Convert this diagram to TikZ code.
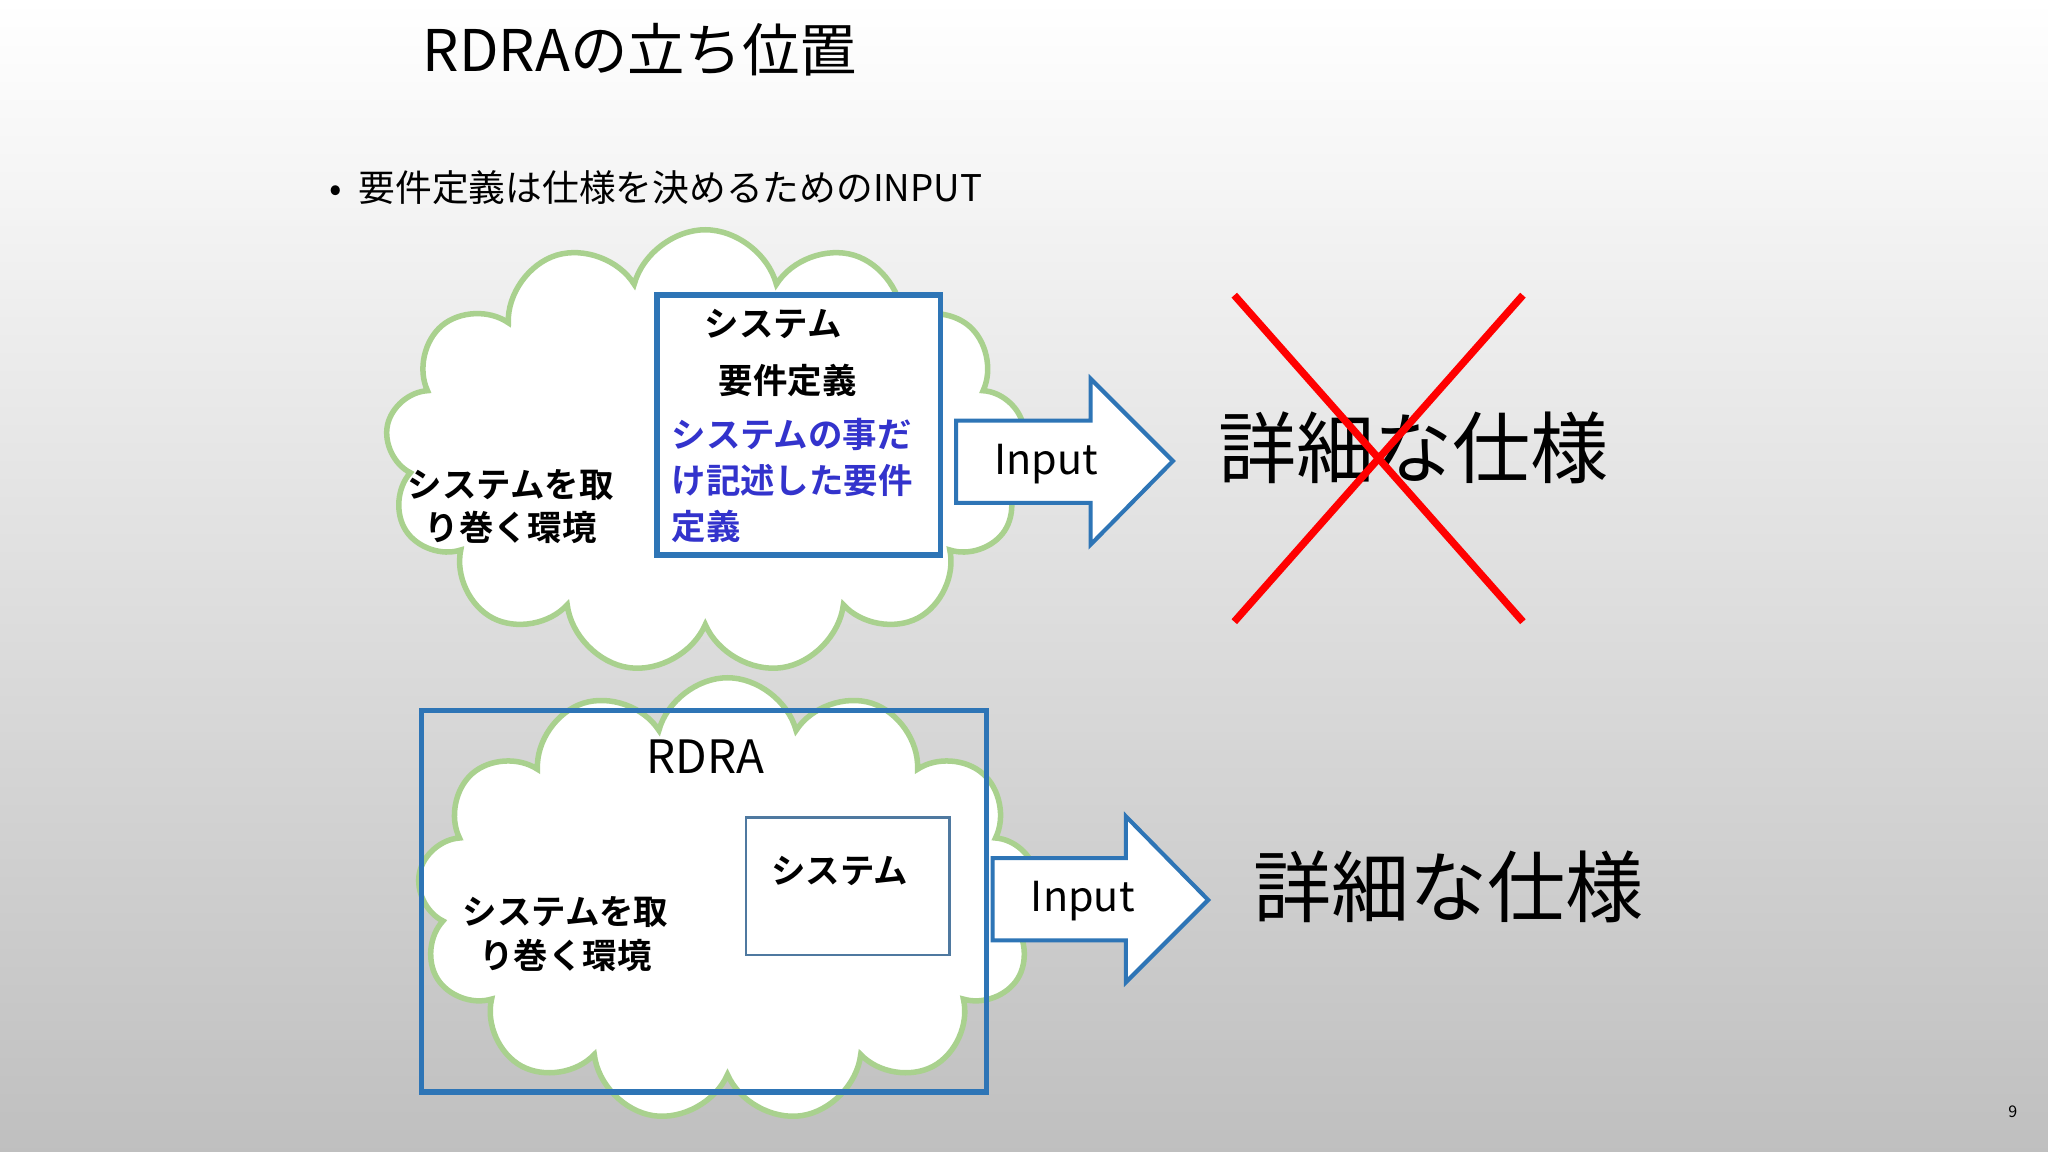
\documentclass[tikz,border=0pt]{standalone}
\usepackage{fontspec}
\setmainfont{Noto Sans CJK JP}
\newfontfamily\jpb{Noto Sans CJK JP Bold}
\usetikzlibrary{shapes.symbols}
\definecolor{bblue}{HTML}{2E75B6}
\definecolor{cgreen}{HTML}{A9D18E}
\definecolor{ptext}{HTML}{3333CC}
\tikzset{
 cloudy/.style={cloud,cloud puffs=13,cloud ignores aspect,draw=cgreen,line width=1.2pt,fill=white},
 bold/.style={font=\jpb\fontsize{7.5}{9.5}\selectfont,align=center},
 big/.style={font=\fontsize{17}{20}\selectfont},
 inp/.style={font=\fontsize{9}{11}\selectfont},
 arr/.style={draw=bblue,fill=white,line width=0.9pt}
}
\begin{document}
\begin{tikzpicture}[x=0.01cm,y=-0.01cm]
\shade[top color=white,bottom color=black!25] (0,0) rectangle (1568,882);
\useasboundingbox (0,0) rectangle (1568,882);
\node[font=\fontsize{12.5}{14}\selectfont] (title) at (490,38) {RDRAの立ち位置};
\node[font=\fontsize{8}{10}\selectfont,anchor=west] (bul) at (240,144) {•\ \ 要件定義は仕様を決めるためのINPUT};
% top
\node[cloudy,minimum width=4.9cm,minimum height=3.4cm] (c1) at (540,346) {};
\node[draw=bblue,fill=white,line width=1.2pt,minimum width=2.17cm,minimum height=1.99cm] (b1) at (611.5,325.5) {};
\node[bold] (t1) at (592,248) {システム};
\node[bold] (t2) at (603,291) {要件定義};
\node[bold,text=ptext,align=left,anchor=north west,inner sep=1pt,font=\jpb\fontsize{7.5}{10}\selectfont] (t3) at (510,316) {システムの事だ\\け記述した要件\\定義};
\node[bold] (env1) at (391,388) {システムを取\\り巻く環境};
\draw[arr] (732,322) -- (835,322) -- (835,290) -- (898,353) -- (835,417) -- (835,385) -- (732,385) -- cycle;
\node[inp] (in1) at (801,355) {Input};
\node[big] (s1) at (1082,343) {詳細な仕様};
\coordinate (x1) at (945,226); \coordinate (x2) at (1166,476);
\coordinate (x3) at (1166,226); \coordinate (x4) at (945,476);
\draw[red,line width=1.6pt] (x1) -- (x2) (x3) -- (x4);
% bottom
\node[cloudy,minimum width=4.75cm,minimum height=3.4cm] (c2) at (557,689) {};
\node[draw=bblue,line width=1.2pt,minimum width=4.32cm,minimum height=2.92cm] (b2) at (539,690) {};
\node[draw=bblue!60!gray,fill=white,line width=0.5pt,minimum width=1.56cm,minimum height=1.05cm] (b3) at (649,678.5) {};
\node[bold] (t4) at (643,667) {システム};
\node[font=\fontsize{10}{12}\selectfont] (rd) at (540,579) {RDRA};
\node[bold] (env2) at (433,715) {システムを取\\り巻く環境};
\draw[arr] (760,657) -- (862,657) -- (862,625) -- (925,689) -- (862,752) -- (862,720) -- (760,720) -- cycle;
\node[inp] (in2) at (829,690) {Input};
\node[big] (s2) at (1109,679) {詳細な仕様};
\node[font=\fontsize{3.5}{4}\selectfont] (pg) at (1541,851) {9};
\end{tikzpicture}
\end{document}
